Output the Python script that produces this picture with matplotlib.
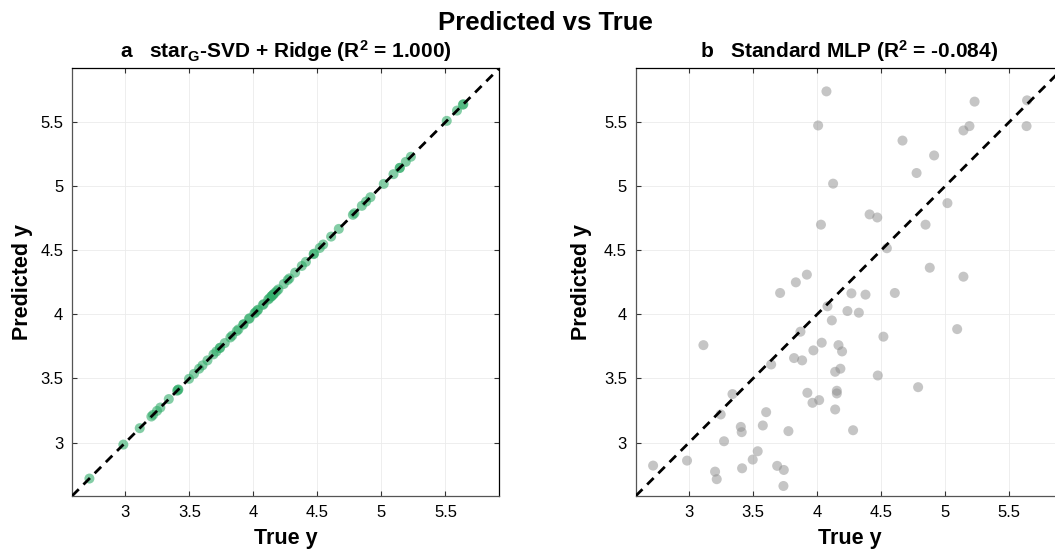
import matplotlib.pyplot as plt
from matplotlib.ticker import FuncFormatter

# test-set values
# panel b: standard MLP
true_b = [4.073, 4.008, 4.125, 4.030, 4.410, 4.470, 4.545, 4.667, 4.777, 4.914,
          4.847, 5.018, 4.880, 5.143, 5.143, 5.190, 5.230, 5.640, 5.636, 3.920,
          3.834, 3.711, 4.268, 4.378, 4.607, 4.081, 4.237, 4.326, 4.115, 3.870,
          5.094, 3.112, 4.036, 3.971, 4.167, 4.195, 3.820, 3.883, 3.641, 4.518,
          4.141, 4.182, 4.474, 4.789, 3.339, 3.924, 4.154, 4.154, 3.964, 4.016,
          4.141, 3.247, 3.602, 3.404, 3.411, 3.576, 3.776, 4.281, 3.273, 3.536,
          3.497, 2.984, 2.719, 3.203, 3.216, 3.414, 3.688, 3.740, 3.737]
pred_b = [5.740, 5.474, 5.020, 4.700, 4.780, 4.756, 4.516, 5.356, 5.103, 5.240,
          4.700, 4.868, 4.364, 4.294, 5.435, 5.469, 5.660, 5.670, 5.469, 4.310,
          4.250, 4.167, 4.164, 4.154, 4.167, 4.063, 4.026, 4.013, 3.953, 3.865,
          3.885, 3.760, 3.779, 3.719, 3.760, 3.711, 3.659, 3.641, 3.609, 3.826,
          3.552, 3.576, 3.523, 3.432, 3.378, 3.388, 3.404, 3.383, 3.310, 3.331,
          3.258, 3.219, 3.237, 3.122, 3.081, 3.133, 3.089, 3.096, 3.010, 2.932,
          2.867, 2.859, 2.820, 2.773, 2.714, 2.799, 2.818, 2.786, 2.661]

# panel a: star_G-SVD + Ridge, points sit on the identity line
true_a = [2.719, 2.984, 3.112, 3.203, 3.216, 3.247, 3.273, 3.339, 3.404, 3.411,
          3.414, 3.497, 3.536, 3.576, 3.602, 3.641, 3.688, 3.711, 3.737, 3.740,
          3.776, 3.820, 3.834, 3.870, 3.883, 3.920, 3.924, 3.964, 3.971, 4.008,
          4.016, 4.030, 4.036, 4.073, 4.081, 4.115, 4.125, 4.141, 4.141, 4.154,
          4.154, 4.167, 4.182, 4.195, 4.237, 4.268, 4.281, 4.326, 4.378, 4.410,
          4.470, 4.474, 4.518, 4.545, 4.607, 4.667, 4.777, 4.789, 4.847, 4.880,
          4.914, 5.018, 5.094, 5.143, 5.143, 5.190, 5.230, 5.510, 5.590, 5.636,
          5.640]
pred_a = [2.719, 2.984, 3.112, 3.203, 3.216, 3.247, 3.273, 3.339, 3.404, 3.411,
          3.414, 3.497, 3.536, 3.576, 3.602, 3.641, 3.688, 3.711, 3.737, 3.740,
          3.776, 3.820, 3.834, 3.870, 3.883, 3.920, 3.924, 3.964, 3.971, 4.008,
          4.016, 4.030, 4.036, 4.073, 4.081, 4.115, 4.125, 4.141, 4.141, 4.154,
          4.154, 4.167, 4.182, 4.195, 4.237, 4.268, 4.281, 4.326, 4.378, 4.410,
          4.470, 4.474, 4.518, 4.545, 4.607, 4.667, 4.777, 4.789, 4.847, 4.880,
          4.914, 5.018, 5.094, 5.143, 5.143, 5.190, 5.230, 5.510, 5.590, 5.636,
          5.640]

lims = [2.585, 5.92]
ticks = [3, 3.5, 4, 4.5, 5, 5.5]

plt.rcParams['font.family'] = ['Liberation Sans', 'DejaVu Sans']
plt.rcParams['mathtext.fontset'] = 'custom'
plt.rcParams['mathtext.rm'] = 'Liberation Sans:bold'
plt.rcParams['mathtext.it'] = 'Liberation Sans:bold'
plt.rcParams['mathtext.bf'] = 'Liberation Sans:bold'

fig = plt.figure(figsize=(10.55, 5.54), dpi=100)
ax_a = fig.add_axes([0.0685, 0.1052, 0.4047, 0.7715])
ax_b = fig.add_axes([0.6028, 0.1052, 0.4047, 0.7715])


def style(ax, title, ylab_x):
    ax.set_xlim(lims)
    ax.set_ylim(lims)
    ax.set_xticks(ticks)
    ax.set_yticks(ticks)
    fmt = FuncFormatter(lambda v, p: '%g' % v)
    ax.xaxis.set_major_formatter(fmt)
    ax.yaxis.set_major_formatter(fmt)
    ax.tick_params(direction='in', top=True, right=True, length=3.6, width=0.8,
                   labelsize=12, pad=6.5, color='#333333')
    ax.grid(True, color='#ebebeb', linewidth=0.6)
    ax.set_axisbelow(True)
    for side in ['left', 'bottom']:
        ax.spines[side].set_color('#555555')
    for side in ['top', 'right']:
        ax.spines[side].set_color('black')
    for s in ax.spines.values():
        s.set_linewidth(0.9)
    ax.set_xlabel('True y', fontsize=15.5, fontweight='bold')
    ax.set_ylabel('Predicted y', fontsize=15.5, fontweight='bold')
    ax.xaxis.set_label_coords(0.5, -0.076)
    ax.yaxis.set_label_coords(ylab_x, 0.5)
    ax.set_title(title, fontsize=15, fontweight='bold', pad=3, va='bottom')
    ax.plot(lims, lims, color='black', linewidth=2, linestyle=(0, (3.3, 2.4)), zorder=3)


ax_a.scatter(true_a, pred_a, s=52, color=(0.2, 0.68, 0.42), alpha=0.6,
             edgecolors='none', zorder=2)
style(ax_a, 'a   star$_\\mathrm{G}$-SVD + Ridge (R$^2$ = 1.000)', -0.092)

ax_b.scatter(true_b, pred_b, s=52, color=(0.55, 0.55, 0.55), alpha=0.5,
             edgecolors='none', zorder=2)
style(ax_b, 'b   Standard MLP (R$^2$ = -0.084)', -0.103)

fig.text(0.5166, 1 - 29.5 / 554, 'Predicted vs True', ha='center', va='baseline',
         fontsize=18.5, fontweight='bold')

plt.savefig('out.png', dpi=100)
plt.close()
